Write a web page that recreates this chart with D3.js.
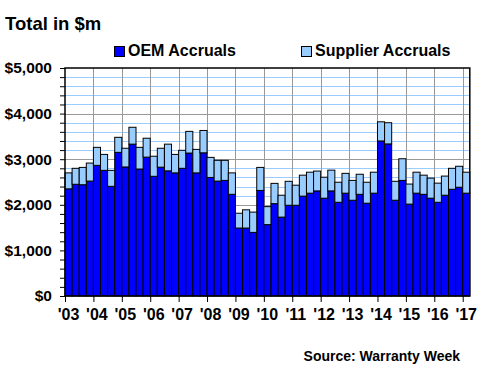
<!DOCTYPE html>
<html>
<head>
<meta charset="utf-8">
<script src="https://cdn.jsdelivr.net/npm/d3@7"></script>
<style>
  html, body { margin: 0; padding: 0; background: #fff; }
  svg { display: block; }
  text { font-family: "Liberation Sans", Arial, sans-serif; font-weight: bold; fill: #000; }
</style>
</head>
<body>
<svg id="chart" width="480" height="380"></svg>
<script>
// Quarterly values, 2003 Q1 .. 2017 Q1 ($ millions)
const quarters = d3.range(57).map(i => (2003 + Math.floor(i / 4)) + "Q" + (i % 4 + 1));
const oemAccruals = [
  2350, 2450, 2440, 2520, 2865, 2755, 2405, 3150,
  2830, 3330, 2785, 3045, 2625, 2825, 2745, 2700,
  2800, 3135, 2700, 3140, 2600, 2520, 2535, 2230,
  1490, 1490, 1395, 2315, 1565, 2025, 1730, 1990,
  1990, 2190, 2255, 2305, 2145, 2305, 2055, 2255,
  2100, 2230, 2035, 2255, 3400, 3335, 2100, 2535,
  2015, 2255, 2230, 2145, 2055, 2210, 2340, 2385,
  2255
];
const supplierAccruals = [
  350, 350, 380, 395, 395, 350, 350, 330,
  410, 370, 475, 415, 440, 415, 585, 405,
  395, 475, 515, 490, 440, 455, 440, 470,
  325, 400, 445, 505, 395, 445, 480, 525,
  440, 460, 460, 435, 460, 455, 440, 435,
  435, 440, 460, 460, 420, 465, 415, 475,
  440, 460, 420, 440, 420, 420, 460, 460,
  460
];
const yearTicks = d3.range(2003, 2018);
const yTickValues = d3.range(0, 5001, 200);
const seriesNames = ["OEM Accruals", "Supplier Accruals"];
const seriesColors = ["#0000ff", "#99ccff"];

(function () {
const svg = d3.select("#chart");
const pLeft = 65, pRight = 469.8, pTop = 68, pBottom = 296;

const x = d3.scaleBand().domain(quarters).range([pLeft, pRight]).padding(0);
const xYear = d3.scaleLinear().domain([2003, 2003 + 57 / 4]).range([pLeft, pRight]);
const y = d3.scaleLinear().domain([0, 5000]).range([pBottom, pTop]);

// Title
svg.append("text").attr("x", 5).attr("y", 30).style("font-size", "18.5px").text("Total in $m");

// Gridlines
const grid = svg.append("g");
grid.selectAll("line.minor").data(yTickValues.filter(v => v % 1000 !== 0))
  .join("line")
  .attr("x1", pLeft).attr("x2", pRight)
  .attr("y1", d => Math.round(y(d)) + 0.5).attr("y2", d => Math.round(y(d)) + 0.5)
  .attr("stroke", "#99ccff").attr("stroke-width", 1);
grid.selectAll("line.major").data(d3.range(1000, 5000, 1000))
  .join("line")
  .attr("x1", pLeft).attr("x2", pRight)
  .attr("y1", d => Math.round(y(d)) + 0.5).attr("y2", d => Math.round(y(d)) + 0.5)
  .attr("stroke", "#999999").attr("stroke-width", 1);
grid.selectAll("line.vert").data(yearTicks.slice(1))
  .join("line")
  .attr("x1", d => Math.round(xYear(d)) + 0.5).attr("x2", d => Math.round(xYear(d)) + 0.5)
  .attr("y1", pTop).attr("y2", pBottom)
  .attr("stroke", "#999999").attr("stroke-width", 1);

// Stacked bars
const rows = quarters.map((q, i) => ({ q, oem: oemAccruals[i], sup: supplierAccruals[i] }));
const stack = d3.stack().keys(["oem", "sup"])(rows);
svg.append("g").selectAll("g").data(stack).join("g")
  .attr("fill", (d, i) => seriesColors[i])
  .selectAll("rect").data(d => d).join("rect")
  .attr("x", d => x(d.data.q))
  .attr("width", x.bandwidth())
  .attr("y", d => y(d[1]))
  .attr("height", d => y(d[0]) - y(d[1]))
  .attr("stroke", "#000").attr("stroke-width", 1);

// Frame
svg.append("rect").attr("x", pLeft).attr("y", pTop).attr("width", pRight - pLeft).attr("height", pBottom - pTop)
  .attr("fill", "none").attr("stroke", "#000").attr("stroke-width", 1.5);

// Y axis
const yAxis = d3.axisLeft(y).tickValues(yTickValues).tickSize(5).tickPadding(8)
  .tickFormat(d => d % 1000 === 0 ? "$" + d3.format(",")(d) : "");
const gy = svg.append("g").attr("transform", `translate(${pLeft},0)`).call(yAxis);
gy.select(".domain").remove();
gy.selectAll("line").attr("stroke", "#000");
gy.selectAll("text").style("font-size", "15.5px").style("font-family", "Liberation Sans, Arial, sans-serif").style("font-weight", "bold");

// X axis
const xAxis = d3.axisBottom(xYear).tickValues(yearTicks).tickSize(6).tickPadding(7)
  .tickFormat(d => "'" + String(d).slice(2));
const gx = svg.append("g").attr("transform", `translate(0,${pBottom})`).call(xAxis);
gx.select(".domain").remove();
gx.selectAll("line").attr("stroke", "#000");
gx.selectAll("text").attr("dx", 3).style("font-size", "16px").style("font-family", "Liberation Sans, Arial, sans-serif").style("font-weight", "bold");

// Legend
const legendX = [114, 301];
const lg = svg.append("g");
seriesNames.forEach((name, i) => {
  lg.append("rect").attr("x", legendX[i] + 0.5).attr("y", 46.5).attr("width", 10).attr("height", 10)
    .attr("fill", seriesColors[i]).attr("stroke", "#000").attr("stroke-width", 1);
  lg.append("text").attr("x", legendX[i] + 14).attr("y", 56).style("font-size", "16px").text(name);
});

// Source
svg.append("text").attr("x", 460).attr("y", 361).attr("text-anchor", "end").style("font-size", "14px").text("Source: Warranty Week");
})();
</script>
</body>
</html>
